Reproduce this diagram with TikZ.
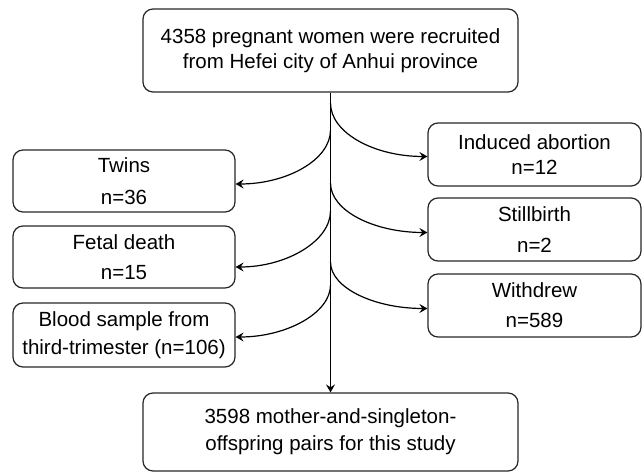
\documentclass[tikz,border=0pt]{standalone}
\usepackage{fontspec}
\setmainfont{Liberation Sans}
\usetikzlibrary{arrows.meta}
\tikzset{
  box/.style={draw=black!85, line width=1.2pt, rounded corners=10pt, align=center,
    inner sep=0pt, font=\fontsize{20.5}{25}\selectfont},
  flow/.style={line width=1.2pt, -{Stealth[length=8pt,width=9pt,inset=3pt]}}
}
\begin{document}
\begin{tikzpicture}[x=1pt,y=-1pt]
\useasboundingbox (0,0) rectangle (643,473);

\node[box, minimum width=375pt, minimum height=83pt] (top) at (330.5,50.5)
  {4358 pregnant women were recruited\\from Hefei city of Anhui province};
\node[box, minimum width=375pt, minimum height=78pt] (pairs) at (330.5,432)
  {3598 mother-and-singleton-\\[2pt]offspring pairs for this study};

\node[box, minimum width=222pt, minimum height=62pt] (twins) at (124,181) {Twins\\[7pt]n=36};
\node[box, minimum width=222pt, minimum height=62pt] (fetal) at (124,257) {Fetal death\\[5pt]n=15};
\node[box, minimum width=222pt, minimum height=64pt] (blood) at (124,335)
  {Blood sample from\\[3pt]third-trimester (n=106)};

\node[box, minimum width=213pt, minimum height=63pt] (induced) at (534.5,154.5) {Induced abortion\\n=12};
\node[box, minimum width=213pt, minimum height=63pt] (still) at (534.5,229.5) {Stillbirth\\[6pt]n=2};
\node[box, minimum width=213pt, minimum height=63pt] (withdrew) at (534.5,305.5) {Withdrew\\[5pt]n=589};

\coordinate (s1) at (330.5,103);
\coordinate (s2) at (330.5,130);
\coordinate (s3) at (330.5,183);
\coordinate (s4) at (330.5,211);
\coordinate (s5) at (330.5,262);
\coordinate (s6) at (330.5,285);

\draw[flow] (top) -- (pairs);

\draw[flow] (s1) .. controls +(0,30) and +(-53,0) .. ([yshift=-2pt]induced.west);
\draw[flow] (s2) .. controls +(0,30) and +(51,0) .. ([yshift=-3pt]twins.east);
\draw[flow] (s3) .. controls +(0,28) and +(-53,0) .. ([yshift=-3pt]still.west);
\draw[flow] (s4) .. controls +(0,30) and +(51,0) .. ([yshift=-10pt]fetal.east);
\draw[flow] (s5) .. controls +(0,26) and +(-53,0) .. ([yshift=-3pt]withdrew.west);
\draw[flow] (s6) .. controls +(0,28) and +(51,0) .. ([yshift=-2pt]blood.east);
\end{tikzpicture}
\end{document}
